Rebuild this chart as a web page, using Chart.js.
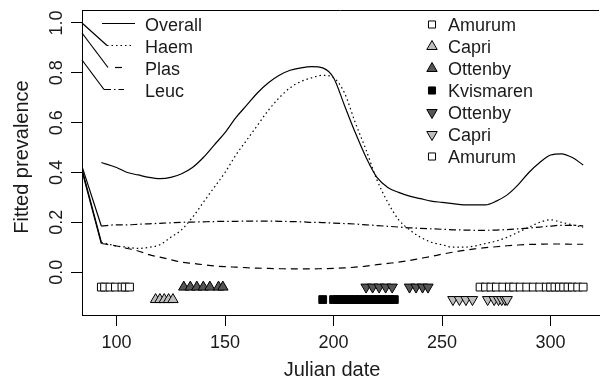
<!DOCTYPE html>
<html>
<head>
<meta charset="utf-8">
<script src="https://cdn.jsdelivr.net/npm/chart.js@4"></script>
<style>
html, body { margin: 0; padding: 0; background: #fff; }
</style>
</head>
<body>
<canvas id="chart" width="606" height="382"></canvas>
<script>
// fitted curves
const days = [93,100,105,110,115,120,125,130,135,140,145,150,155,160,165,170,175,180,185,190,195,200,205,210,215,220,225,230,235,240,245,250,255,260,265,270,275,280,285,290,295,300,305,310,315]
const overall = [0.44,0.42,0.40,0.39,0.38,0.375,0.38,0.395,0.42,0.46,0.51,0.56,0.62,0.67,0.72,0.76,0.79,0.81,0.82,0.825,0.82,0.78,0.67,0.56,0.46,0.38,0.34,0.32,0.305,0.295,0.285,0.28,0.275,0.27,0.27,0.27,0.285,0.31,0.35,0.40,0.44,0.47,0.475,0.46,0.43]
const haem = [0.12,0.105,0.10,0.095,0.10,0.11,0.14,0.17,0.22,0.28,0.34,0.40,0.47,0.53,0.59,0.65,0.70,0.74,0.765,0.78,0.79,0.78,0.72,0.60,0.49,0.37,0.28,0.21,0.17,0.14,0.12,0.11,0.10,0.10,0.105,0.115,0.125,0.14,0.16,0.18,0.20,0.21,0.20,0.19,0.18]
const plas = [0.115,0.105,0.095,0.085,0.07,0.06,0.05,0.04,0.035,0.03,0.025,0.022,0.02,0.018,0.016,0.015,0.014,0.013,0.013,0.013,0.014,0.015,0.017,0.02,0.024,0.03,0.035,0.04,0.047,0.055,0.063,0.072,0.08,0.087,0.093,0.098,0.102,0.106,0.109,0.111,0.112,0.113,0.113,0.112,0.112]
const leuc = [0.185,0.19,0.19,0.192,0.194,0.196,0.198,0.2,0.201,0.202,0.203,0.204,0.204,0.205,0.205,0.205,0.204,0.203,0.202,0.2,0.199,0.197,0.195,0.193,0.19,0.187,0.184,0.181,0.178,0.176,0.174,0.172,0.17,0.169,0.168,0.168,0.169,0.171,0.174,0.177,0.181,0.185,0.188,0.188,0.186]

// stray segments coming in from the left edge
const leadDays = [80, 93]
const haemLead = [0.55, 0.12]
const plasLead = [0.54, 0.115]
const leucLead = [0.535, 0.185]

// sampling dates per site
const amurumSpring = [93,94.5,97,99.5,102.5,104,106]
const capriSpring = [118,120,122,124,126]
const ottenbySpring = [131,134,137,140,143,147,149]
const kvismaren = [195,200,202,204,206,208,210,212,214,216,218,220,222,224,226,228]
const ottenbyAutumn = [215,218,221,224,227,235,238,241,243.5]
const capriAutumn = [255,258,261,264,271,274,276,277.5,279,280]
const amurumAutumn = [267.5,270,272.5,275,278,281,283,286,289,292,295,298,300,302,304,306,308,310,312.5,315]
const upperRow = -0.06
const lowerRow = -0.11

const xTicks = [100,150,200,250,300]
const yTicks = [0,0.2,0.4,0.6,0.8,1.0]

const lineNames = ['Overall','Haem','Plas','Leuc']
const siteNames = ['Amurum','Capri','Ottenby','Kvismaren','Ottenby','Capri','Amurum']

const FONT = '"Liberation Sans", Arial, Helvetica, sans-serif'
const TXT = '#1a1a1a'
const LIGHT = '#bebebe'
const DARK = '#555555'

Chart.defaults.font.family = FONT

const pts = (xs, ys) => xs.map((d, i) => ({x: d, y: ys[i]}))
const row = (xs, level) => xs.map(d => ({x: d, y: level}))

const curve = (data, dash) => ({
    type: 'line', data: data, borderColor: '#000', borderWidth: 1.2,
    borderDash: dash, pointRadius: 0, cubicInterpolationMode: 'monotone', fill: false
})
const marks = (data, style, fill, radius, rotation) => ({
    type: 'scatter', data: data, pointStyle: style, pointRadius: radius, pointHoverRadius: radius,
    pointRotation: rotation, backgroundColor: fill, borderColor: '#000', borderWidth: 1
})

const DASH = {Overall: [], Haem: [1.5, 3], Plas: [7, 5], Leuc: [7, 3, 1.5, 3]}

// symbols for the site legend, same shapes as chart.js draws
function symbol(ctx, kind, fill, x, y) {
    ctx.fillStyle = fill
    ctx.strokeStyle = '#000'
    ctx.lineWidth = 1
    ctx.beginPath()
    if (kind === 'rect') {
        const s = 5 * Math.SQRT1_2
        ctx.rect(x - s, y - s, 2 * s, 2 * s)
    } else {
        const r = 6, f = kind === 'up' ? 1 : -1
        ctx.moveTo(x, y - f * r)
        ctx.lineTo(x + 0.866 * r, y + f * r / 2)
        ctx.lineTo(x - 0.866 * r, y + f * r / 2)
        ctx.closePath()
    }
    ctx.fill()
    ctx.stroke()
}

const decor = {
    id: 'decor',
    afterDraw(chart) {
        const {ctx, chartArea: a, scales: {x, y}} = chart
        ctx.save()
        ctx.strokeStyle = '#000'
        ctx.lineWidth = 1
        // top of the box
        ctx.beginPath()
        ctx.moveTo(a.left, Math.round(a.top) + 0.5)
        ctx.lineTo(a.right, Math.round(a.top) + 0.5)
        ctx.stroke()
        // x tick marks
        xTicks.forEach(v => {
            const px = Math.floor(x.getPixelForValue(v)) + 0.5
            ctx.beginPath()
            ctx.moveTo(px, a.bottom)
            ctx.lineTo(px, a.bottom + 11)
            ctx.stroke()
        })

        // y tick labels turned on their side
        ctx.fillStyle = TXT
        ctx.font = '18px ' + FONT
        ctx.textAlign = 'center'
        ctx.textBaseline = 'alphabetic'
        yTicks.forEach(v => {
            ctx.save()
            ctx.translate(62, y.getPixelForValue(v))
            ctx.rotate(-Math.PI / 2)
            ctx.fillText(v.toFixed(1), 0, 0)
            ctx.restore()
        })

        // axis titles
        ctx.font = '20px ' + FONT
        ctx.save()
        ctx.translate(28, 157)
        ctx.rotate(-Math.PI / 2)
        ctx.fillText('Fitted prevalence', 0, 0)
        ctx.restore()
        ctx.fillText('Julian date', 332, 376)

        // line legend
        ctx.font = '18px ' + FONT
        ctx.textAlign = 'left'
        const base = 31, step = 22
        const starts = [102, 107, 115, 104]
        const ends = [135, 134, 124, 124]
        const edgeY = [null, 23, 33, 60]
        lineNames.forEach((n, i) => {
            const by = base + i * step
            const ly = by - 7.5
            ctx.fillText(n, 145, by)
            ctx.setLineDash(DASH[n])
            ctx.lineWidth = 1.2
            ctx.beginPath()
            ctx.moveTo(starts[i], ly)
            ctx.lineTo(ends[i], ly)
            ctx.stroke()
            ctx.setLineDash([])
            if (edgeY[i] !== null) {
                ctx.beginPath()
                ctx.moveTo(a.left, edgeY[i])
                ctx.lineTo(i === 2 ? 108 : starts[i], ly)
                ctx.stroke()
            }
        })

        // site legend
        const kinds = ['rect', 'up', 'up', 'rect', 'down', 'down', 'rect']
        const fills = ['#fff', LIGHT, DARK, '#000', DARK, LIGHT, '#fff']
        siteNames.forEach((n, i) => {
            const by = base + i * step
            ctx.fillStyle = TXT
            ctx.fillText(n, 448, by)
            symbol(ctx, kinds[i], fills[i], 432, by - 6.5)
        })
        ctx.restore()
    }
}

new Chart(document.getElementById('chart'), {
    data: {
        datasets: [
            marks(row(amurumAutumn, upperRow), 'rect', '#fff', 5.5, 0),
            marks(row(capriAutumn, lowerRow), 'triangle', LIGHT, 6, 180),
            marks(row(ottenbyAutumn, upperRow), 'triangle', DARK, 6, 180),
            marks(row(kvismaren, lowerRow), 'rect', '#000', 5.5, 0),
            marks(row(ottenbySpring, upperRow), 'triangle', DARK, 6, 0),
            marks(row(capriSpring, lowerRow), 'triangle', LIGHT, 6, 0),
            marks(row(amurumSpring, upperRow), 'rect', '#fff', 5.5, 0),
            curve(pts(days, overall), DASH.Overall),
            curve(pts(days, haem), DASH.Haem),
            curve(pts(days, plas), DASH.Plas),
            curve(pts(days, leuc), DASH.Leuc),
            curve(pts(leadDays, haemLead), []),
            curve(pts(leadDays, plasLead), []),
            curve(pts(leadDays, leucLead), [])
        ]
    },
    options: {
        responsive: false,
        animation: false,
        devicePixelRatio: 1,
        layout: {padding: {left: 71, top: 10, right: 0, bottom: 22.4}},
        plugins: {legend: {display: false}, tooltip: {enabled: false}},
        scales: {
            x: {
                type: 'linear', min: 84.1, max: 322.3,
                afterBuildTicks: s => { s.ticks = xTicks.map(v => ({value: v})) },
                ticks: {color: TXT, font: {size: 18}, padding: 6, callback: v => String(v)},
                grid: {drawOnChartArea: false, drawTicks: true, tickLength: 11, color: '#000'},
                border: {display: true, color: '#000', width: 1}
            },
            y: {
                type: 'linear', min: -0.172, max: 1.052,
                afterBuildTicks: s => { s.ticks = yTicks.map(v => ({value: v})) },
                ticks: {display: false},
                grid: {drawOnChartArea: false, drawTicks: true, tickLength: 11, color: '#000'},
                border: {display: true, color: '#000', width: 1}
            }
        }
    },
    plugins: [decor]
})
</script>
</body>
</html>
